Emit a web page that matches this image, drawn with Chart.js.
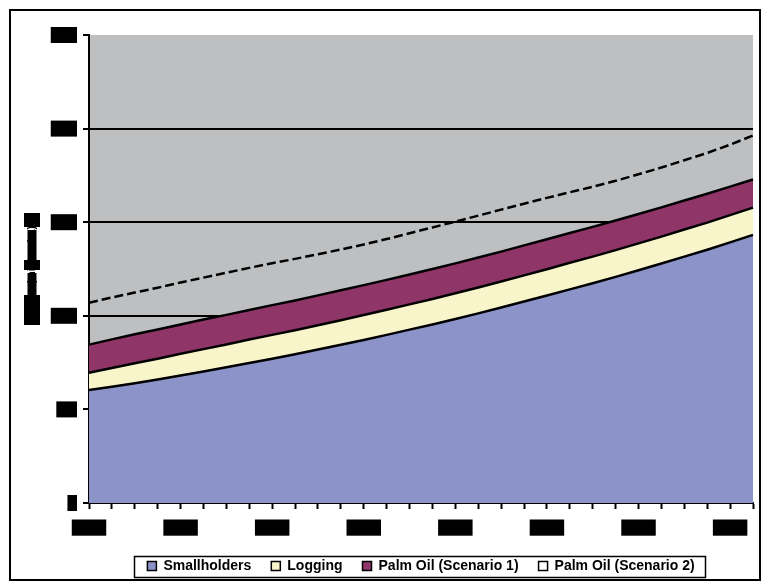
<!DOCTYPE html>
<html>
<head>
<meta charset="utf-8">
<script src="https://cdn.jsdelivr.net/npm/chart.js@4/dist/chart.umd.min.js"></script>
<style>
  html, body { margin: 0; padding: 0; background: #ffffff; }
  #wrap { width: 769px; height: 585px; }
</style>
</head>
<body>
<div id="wrap"><canvas id="c" width="769" height="585"></canvas></div>
<script>
// ---- data ----
const years = [2000, 2001, 2002, 2003, 2004, 2005, 2006, 2007, 2008, 2009,
               2010, 2011, 2012, 2013, 2014, 2015, 2016, 2017, 2018, 2019,
               2020, 2021, 2022, 2023, 2024, 2025, 2026, 2027, 2028, 2029];
const smallholders = [604, 621, 640, 660, 681, 703, 725, 748, 771, 795,
                      820, 845, 871, 898, 926, 954, 983, 1013, 1044, 1076,
                      1108, 1141, 1174, 1208, 1243, 1279, 1316, 1353, 1392, 1432];
const logging = [92, 100, 106, 111, 116, 119, 122, 125, 127, 128,
                 130, 131, 133, 134, 135, 136, 137, 138, 139, 140,
                 141, 142, 142, 143, 144, 144, 145, 145, 146, 146];
const palmOil1 = [150, 153, 155, 156, 157, 158, 158, 158, 159, 159,
                  159, 160, 160, 160, 160, 160, 160, 160, 160, 160,
                  160, 159, 159, 158, 157, 156, 155, 154, 152, 150];
const palmOil2 = [224, 224, 223, 223, 224, 224, 225, 225, 224, 222,
                  220, 218, 217, 218, 220, 222, 223, 224, 224, 223,
                  221, 218, 214, 212, 212, 213, 215, 218, 224, 235];
const seriesNames = ['Smallholders', 'Logging', 'Palm Oil (Scenario 1)', 'Palm Oil (Scenario 2)'];
const yTickValues = [0, 500, 1000, 1500, 2000, 2500];
const xLabelStep = 4;
const yTitleText = 'Area (million ha)';

// ---- styles ----
const COL_BG = '#BDBFC1';
const COL_SMALL = '#8B93C9';
const COL_LOG = '#F9F5CB';
const COL_PALM1 = '#8F3567';
const COL_PALM2 = '#FFFFFF';

const decor = {
  id: 'decor',
  beforeDraw(chart) {
    const { ctx, chartArea: a } = chart;
    ctx.save();
    ctx.fillStyle = '#ffffff';
    ctx.fillRect(0, 0, chart.width, chart.height);
    ctx.fillStyle = COL_BG;
    ctx.fillRect(a.left, a.top, a.right - a.left, a.bottom - a.top);
    // y-axis title (redacted look: black blocks with the text inside)
    const cy = (a.top + a.bottom) / 2;
    const cx = 32;
    ctx.fillStyle = '#000';
    const segs = [[-56, -42, 16], [-39, -9, 9], [-9, 1, 16], [4, 26, 9], [26, 56, 16]];
    segs.forEach(s => ctx.fillRect(cx - s[2] / 2, cy + s[0], s[2], s[1] - s[0]));
    ctx.translate(cx, cy);
    ctx.rotate(-Math.PI / 2);
    ctx.font = 'bold 11px "Liberation Sans", Arial, sans-serif';
    ctx.textAlign = 'center';
    ctx.textBaseline = 'middle';
    ctx.fillText(yTitleText, 0, 0);
    ctx.restore();
  },
  afterLayout(chart) {
    const lg = chart.legend;
    if (lg) {
      lg.left = chart.chartArea.left;
      lg.right = chart.chartArea.right;
      lg.width = lg.right - lg.left;
    }
  },
  afterDraw(chart) {
    const { ctx } = chart;
    ctx.save();
    const hb = chart.legend.legendHitBoxes;
    if (hb && hb.length) {
      const f = hb[0], l = hb[hb.length - 1];
      const cyL = f.top + f.height / 2;
      const x0 = f.left - 13, x1 = l.left + l.width + 11;
      ctx.strokeStyle = '#000';
      ctx.lineWidth = 1.5;
      ctx.strokeRect(Math.round(x0) + 0.5, Math.round(cyL - 10.5) + 0.5, Math.round(x1 - x0), 21);
    }
    ctx.lineWidth = 2;
    ctx.strokeStyle = '#000';
    ctx.strokeRect(10, 10, 750, 570);
    ctx.restore();
  }
};

const chart = new Chart(document.getElementById('c'), {
  type: 'line',
  data: {
    labels: years,
    datasets: [
      { label: seriesNames[0], data: smallholders, backgroundColor: COL_SMALL, borderColor: '#000', borderWidth: 2.5, fill: 'origin', pointRadius: 0, tension: 0 },
      { label: seriesNames[1], data: logging, backgroundColor: COL_LOG, borderColor: '#000', borderWidth: 2.5, fill: '-1', pointRadius: 0, tension: 0 },
      { label: seriesNames[2], data: palmOil1, backgroundColor: COL_PALM1, borderColor: '#000', borderWidth: 2.5, fill: '-1', pointRadius: 0, tension: 0 },
      { label: seriesNames[3], data: palmOil2, backgroundColor: COL_PALM2, borderColor: '#000', borderWidth: 2.5, borderDash: [9, 4], fill: false, pointRadius: 0, tension: 0 }
    ]
  },
  options: {
    responsive: false,
    animation: false,
    devicePixelRatio: 1,
    layout: { padding: { left: 0, right: 16, top: 35, bottom: 2 } },
    plugins: {
      tooltip: { enabled: false },
      title: { display: false },
      legend: {
        display: true,
        position: 'bottom',
        align: 'center',
        labels: {
          boxWidth: 9,
          boxHeight: 9,
          padding: 20,
          color: '#000',
          font: { family: '"Liberation Sans", Arial, sans-serif', size: 14, weight: 'bold' },
          generateLabels(ch) {
            const fills = [COL_SMALL, COL_LOG, COL_PALM1, COL_PALM2];
            return ch.data.datasets.map((ds, i) => ({
              text: ds.label, fillStyle: fills[i], strokeStyle: '#000', lineWidth: 1.5,
              hidden: false, datasetIndex: i, fontColor: '#000'
            }));
          }
        }
      }
    },
    scales: {
      x: {
        type: 'category',
        offset: false,
        border: { display: true, color: '#000', width: 2 },
        grid: { drawOnChartArea: false, drawTicks: true, tickLength: 6, tickColor: '#000', tickWidth: 2 },
        ticks: {
          autoSkip: false,
          maxRotation: 0,
          minRotation: 0,
          padding: 12,
          color: '#000',
          font: { family: '"Liberation Sans", Arial, sans-serif', size: 11, weight: 'bold' },
          showLabelBackdrop: (c) => c.index % xLabelStep === 0,
          backdropColor: '#000',
          backdropPadding: { x: 5, y: 1.5 },
          callback: (v, i) => (i % xLabelStep === 0 ? String(years[i]) : '')
        },
        afterFit(s) { s.height = 36; }
      },
      y: {
        stacked: true,
        min: 0,
        max: 2500,
        afterBuildTicks(s) { s.ticks = yTickValues.map(v => ({ value: v })); },
        border: { display: true, color: '#000', width: 2 },
        grid: {
          drawTicks: true,
          tickLength: 6,
          tickColor: '#000',
          tickWidth: 2,
          lineWidth: 2,
          color: (c) => (c.tick && (c.tick.value === 2500 || c.tick.value === 0) ? 'rgba(0,0,0,0)' : '#000')
        },
        ticks: {
          padding: 8,
          color: '#000',
          font: { family: '"Liberation Sans", Arial, sans-serif', size: 10, weight: 'bold' },
          showLabelBackdrop: true,
          backdropColor: '#000',
          backdropPadding: 2,
          callback: (v) => String(v)
        },
        afterFit(s) { s.width = 89; }
      }
    }
  },
  plugins: [decor]
});
</script>
</body>
</html>
